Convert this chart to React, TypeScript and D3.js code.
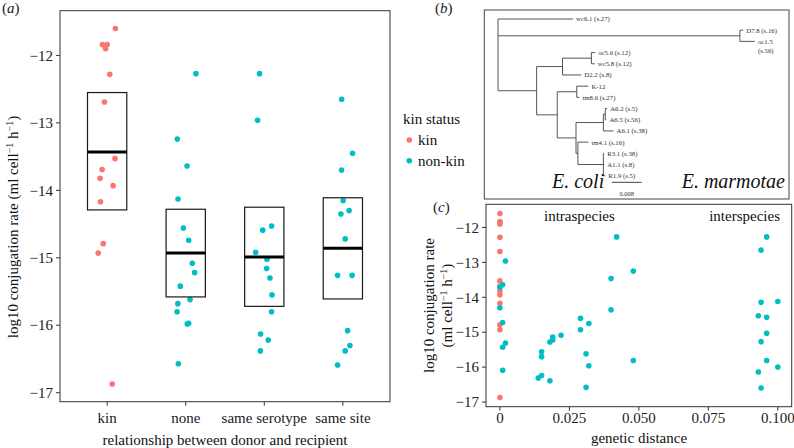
import React from "react";
import * as d3 from "d3";

// ---------- Panel (a) data ----------
const categories = ["kin", "none", "same serotype", "same site"];
const kinValues = [-11.6, -11.84, -11.84, -11.9, -12.28, -12.69, -13.53, -13.69, -13.82, -13.93, -14.17, -14.79, -14.93, -16.87];
const kinJitter = [0.105, -0.06, 0.0, -0.02, 0.034, -0.034, 0.1, -0.064, -0.09, 0.076, -0.085, -0.05, -0.114, 0.064];
const noneValues = [-12.27, -13.24, -13.64, -14.13, -14.56, -14.74, -15.08, -15.22, -15.42, -15.62, -15.68, -15.8, -15.97, -15.98, -16.57];
const noneJitter = [0.13, -0.107, 0.017, -0.098, -0.03, 0.038, 0.084, 0.114, -0.069, 0.055, -0.1, -0.11, 0.038, 0.02, -0.094];
const serotypeValues = [-12.27, -12.96, -14.59, -14.53, -14.92, -15.02, -15.16, -15.3, -15.55, -15.8, -16.13, -16.22, -16.38];
const serotypeJitter = [-0.06, -0.085, -0.02, 0.093, -0.11, 0.034, 0.03, 0.072, 0.098, 0.093, -0.047, 0.05, -0.05];
const siteValues = [-12.65, -13.45, -13.7, -14.15, -14.35, -14.3, -14.72, -15.26, -15.26, -16.08, -16.3, -16.38, -16.59];
const siteJitter = [-0.016, 0.123, -0.016, 0.004, -0.025, 0.08, 0.03, -0.067, 0.118, 0.06, 0.09, 0.03, -0.067];
const boxLow = [-14.29, -15.58, -15.72, -15.61];
const boxMid = [-13.43, -14.93, -14.99, -14.86];
const boxHigh = [-12.55, -14.28, -14.25, -14.11];
const yTicks = [-12, -13, -14, -15, -16, -17];

// ---------- Panel (c) data ----------
const kinDistance = [0, 0, 0, 0, 0, 0, 0, 0, 0, 0, 0, 0, 0, 0];
const nonkinDistance = [
  0.002, 0, 0.001, 0, 0.001, 0.002, 0.001, 0.001,
  0.015, 0.015, 0.0138, 0.015, 0.018, 0.018, 0.019, 0.019, 0.022,
  0.029, 0.029, 0.032, 0.031, 0.032, 0.031,
  0.042, 0.04, 0.048, 0.04, 0.048,
  0.096, 0.094, 0.094, 0.1, 0.093, 0.096, 0.096, 0.094, 0.096, 0.1, 0.093, 0.094,
];
const nonkinRate = [
  -12.96, -13.71, -13.64, -14.3, -14.72, -15.31, -15.43, -16.09,
  -15.56, -15.7, -16.31, -16.24, -16.39, -15.28, -15.22, -15.14, -15.09,
  -14.6, -14.93, -14.75, -15.62, -15.96, -16.58,
  -12.27, -13.46, -13.25, -14.36, -15.81,
  -12.27, -12.65, -14.14, -14.12, -14.53, -14.57, -15.03, -15.27, -15.81, -16.0, -16.14, -16.6,
];
const distTicks = [0, 0.025, 0.05, 0.075, 0.1];
const distTickLabels = ["0", "0.025", "0.050", "0.075", "0.100"];

// ---------- Panel (b) tree data ----------
const treeIds = ["root", "wc6.1", "marm", "D7.8", "oc1.5", "ecoli", "upper", "ocwc", "oc5.6", "wc5.8", "D2.2", "lower", "k12n", "K-12", "tm8.6", "lowlow", "a6", "a625", "A6.2", "A6.5", "A6.1", "tmr", "tm4.1", "r", "R3.1", "A1.1", "R1.9"];
const treeParents = ["", "root", "root", "marm", "marm", "root", "ecoli", "upper", "ocwc", "ocwc", "upper", "ecoli", "lower", "k12n", "k12n", "lower", "lowlow", "a6", "a625", "a625", "a6", "lowlow", "tmr", "tmr", "r", "r", "r"];
const treeLengths = [0, 0.02, 0.0645, 0.0009, 0.004, 0.0103, 0.0069, 0.0077, 0.001, 0.0009, 0.005, 0.0055, 0.0052, 0.0031, 0.0007, 0.005, 0.0073, 0.0005, 0.0005, 0.0003, 0.0027, 0.0005, 0.0028, 0.0068, 0.0002, 0.0002, 0.0005];
const treeLabels = ["", "wc6.1 (s.27)", "", "D7.8 (s.16)", "oc1.5|(s.56)", "", "", "", "oc5.6 (s.12)", "wc5.8 (s.12)", "D2.2 (s.8)", "", "", "K-12", "tm8.6 (s.27)", "", "", "", "A6.2 (s.5)", "A6.5 (s.56)", "A6.1 (s.38)", "", "tm4.1 (s.16)", "", "R3.1 (s.38)", "A1.1 (s.8)", "R1.9 (s.5)"];
const scaleBarValue = 0.008;

const KIN = "#F8766D";
const NONKIN = "#00BFC4";
const FONT = "'Liberation Serif', 'Times New Roman', serif";
const R = 2.8;
const FS = 15;

function SupLabel({ prefix }: { prefix: string }) {
  return (
    <>
      {prefix}(ml cell
      <tspan fontSize="10" dy="-5">−1</tspan>
      <tspan dy="5"> h</tspan>
      <tspan fontSize="10" dy="-5">−1</tspan>
      <tspan dy="5">)</tspan>
    </>
  );
}

export default function App() {
  // ----- panel (a) scales -----
  const allVals = [...kinValues, ...noneValues, ...serotypeValues, ...siteValues];
  const ext = d3.extent(allVals) as [number, number];
  const pad = (ext[1] - ext[0]) * 0.05;
  const aY = d3.scaleLinear().domain([ext[0] - pad, ext[1] + pad]).range([401.7, 10.7]);
  const aX = d3.scalePoint<string>().domain(categories).range([60, 390]).padding(0.6);
  const step = aX.step();
  const groups = [
    { vals: kinValues, jit: kinJitter, color: KIN },
    { vals: noneValues, jit: noneJitter, color: NONKIN },
    { vals: serotypeValues, jit: serotypeJitter, color: NONKIN },
    { vals: siteValues, jit: siteJitter, color: NONKIN },
  ];

  // ----- panel (c) scales -----
  const cY = d3.scaleLinear().domain([ext[0] - pad, ext[1] + pad]).range([406.7, 204.3]);
  const dExt = [0, 0.1];
  const dPad = (dExt[1] - dExt[0]) * 0.05;
  const cX = d3.scaleLinear().domain([dExt[0] - dPad, dExt[1] + dPad]).range([486, 791.7]);

  // ----- panel (b) tree -----
  const table = treeIds.map((id, i) => ({ id, parent: treeParents[i], len: treeLengths[i], label: treeLabels[i] }));
  const root = d3.stratify<any>().id((d: any) => d.id).parentId((d: any) => d.parent || null)(table);
  const treeX = d3.scaleLinear().domain([0, scaleBarValue]).range([498, 528]);
  const leaves = root.leaves();
  const leafY = d3.scaleLinear().domain([0, leaves.length - 1]).range([19, 175.7]);
  const pos = new Map<string, { x: number; y: number }>();
  let leafIdx = 0;
  const place = (node: any, dist: number) => {
    const d = dist + node.data.len;
    if (!node.children) {
      pos.set(node.id, { x: treeX(d), y: leafY(leafIdx++) });
    } else {
      node.children.forEach((c: any) => place(c, d));
      const first = pos.get(node.children[0].id)!;
      const last = pos.get(node.children[node.children.length - 1].id)!;
      pos.set(node.id, { x: treeX(d), y: (first.y + last.y) / 2 });
    }
  };
  place(root, 0);
  const treeLines: { x1: number; y1: number; x2: number; y2: number }[] = [];
  root.each((node: any) => {
    if (node.children) {
      const p = pos.get(node.id)!;
      const ys = node.children.map((c: any) => pos.get(c.id)!.y);
      treeLines.push({ x1: p.x, x2: p.x, y1: d3.min(ys)!, y2: d3.max(ys)! });
      node.children.forEach((c: any) => {
        const cp = pos.get(c.id)!;
        treeLines.push({ x1: p.x, x2: cp.x, y1: cp.y, y2: cp.y });
      });
    }
  });
  const barLen = treeX(scaleBarValue) - treeX(0);

  const tickColor = "#333";

  return (
    <svg width={794} height={448} style={{ display: "block", position: "absolute", left: 0, top: 0 }} fontFamily={FONT}>
      <rect width={794} height={448} fill="#fff" />
      {/* ================= panel (a) ================= */}
      <text x={2} y={13} fontSize={FS} fill="#222">(<tspan fontStyle="italic">a</tspan>)</text>
      <rect x={60} y={10.7} width={330} height={391} fill="none" stroke="#333" strokeWidth={1} />
      {yTicks.map((t) => (
        <g key={"ay" + t}>
          <line x1={56} x2={60} y1={aY(t)} y2={aY(t)} stroke={tickColor} />
          <text x={53} y={aY(t)} dy="0.35em" textAnchor="end" fontSize={FS} fill="#222">{"−" + Math.abs(t)}</text>
        </g>
      ))}
      {categories.map((c) => (
        <g key={"ax" + c}>
          <line x1={aX(c)} x2={aX(c)} y1={401.7} y2={405.7} stroke={tickColor} />
          <text x={aX(c)} y={418} dy="0.35em" textAnchor="middle" fontSize={FS} fill="#222">{c}</text>
        </g>
      ))}
      <text x={225} y={440} dy="0.35em" textAnchor="middle" fontSize={FS} fill="#111">relationship between donor and recipient</text>
      <text transform="translate(18,227) rotate(-90)" textAnchor="middle" fontSize={FS} fill="#111">
        <SupLabel prefix="log10 conjugation rate " />
      </text>
      {groups.map((g, gi) =>
        g.vals.map((v, i) => (
          <circle key={"ap" + gi + "-" + i} cx={aX(categories[gi])! + g.jit[i] * step} cy={aY(v)} r={R} fill={g.color} />
        ))
      )}
      {categories.map((c, i) => {
        const cx = aX(c)!;
        const w = step * 0.5;
        return (
          <g key={"box" + c}>
            <rect x={cx - w / 2} y={aY(boxHigh[i])} width={w} height={aY(boxLow[i]) - aY(boxHigh[i])} fill="none" stroke="#1a1a1a" strokeWidth={1.2} />
            <line x1={cx - w / 2} x2={cx + w / 2} y1={aY(boxMid[i])} y2={aY(boxMid[i])} stroke="#000" strokeWidth={3} />
          </g>
        );
      })}

      {/* ================= legend ================= */}
      <text x={403} y={124} fontSize={FS} fill="#111">kin status</text>
      <circle cx={409.3} cy={140} r={R} fill={KIN} />
      <text x={418} y={140} dy="0.35em" fontSize={FS} fill="#111">kin</text>
      <circle cx={409.3} cy={160.7} r={R} fill={NONKIN} />
      <text x={418} y={160.7} dy="0.35em" fontSize={FS} fill="#111">non-kin</text>

      {/* ================= panel (b) ================= */}
      <text x={435} y={13} fontSize={FS} fill="#222">(<tspan fontStyle="italic">b</tspan>)</text>
      <rect x={484.3} y={10} width={304.7} height={189} fill="none" stroke="#444" strokeWidth={1} />
      {treeLines.map((l, i) => (
        <line key={"tl" + i} x1={l.x1} x2={l.x2} y1={l.y1} y2={l.y2} stroke="#555" strokeWidth={1} />
      ))}
      {leaves.map((leaf: any) => {
        const p = pos.get(leaf.id)!;
        const parts = (leaf.data.label as string).split("|");
        return (
          <text key={"lab" + leaf.id} x={p.x + 3} y={p.y} fontSize={6.8} fill="#333">
            {parts.map((s, k) => (
              <tspan key={k} x={p.x + 3} dy={k === 0 ? "0.35em" : "1.4em"}>{s}</tspan>
            ))}
          </text>
        );
      })}
      <text x={552} y={188} fontSize={20} fontStyle="italic" fill="#111">E. coli</text>
      <text x={785} y={188} fontSize={20} fontStyle="italic" fill="#111" textAnchor="end">E. marmotae</text>
      <line x1={611.7} x2={611.7 + barLen} y1={182.3} y2={182.3} stroke="#444" strokeWidth={1} />
      <text x={611.7 + barLen / 2} y={196} fontSize={6.5} textAnchor="middle" fill="#333">{String(scaleBarValue)}</text>

      {/* ================= panel (c) ================= */}
      <text x={433} y={212} fontSize={FS} fill="#222">(<tspan fontStyle="italic">c</tspan>)</text>
      <rect x={486} y={204.3} width={305.7} height={202.4} fill="none" stroke="#333" strokeWidth={1} />
      {yTicks.map((t) => (
        <g key={"cy" + t}>
          <line x1={482} x2={486} y1={cY(t)} y2={cY(t)} stroke={tickColor} />
          <text x={479} y={cY(t)} dy="0.35em" textAnchor="end" fontSize={FS} fill="#222">{"−" + Math.abs(t)}</text>
        </g>
      ))}
      {distTicks.map((t, i) => (
        <g key={"cx" + t}>
          <line x1={cX(t)} x2={cX(t)} y1={406.7} y2={410.7} stroke={tickColor} />
          <text x={cX(t)} y={418} dy="0.35em" textAnchor="middle" fontSize={FS} fill="#222">{distTickLabels[i]}</text>
        </g>
      ))}
      <text x={639} y={438} dy="0.35em" textAnchor="middle" fontSize={FS} fill="#111">genetic distance</text>
      <text transform="translate(434,305.5) rotate(-90)" textAnchor="middle" fontSize={FS} fill="#111">log10 conjugation rate</text>
      <text transform="translate(452,305.5) rotate(-90)" textAnchor="middle" fontSize={FS} fill="#111">
        <SupLabel prefix="" />
      </text>
      <text x={544} y={221} fontSize={FS} fill="#111">intraspecies</text>
      <text x={780} y={221} fontSize={FS} fill="#111" textAnchor="end">interspecies</text>
      {kinValues.map((v, i) => (
        <circle key={"ck" + i} cx={cX(kinDistance[i])} cy={cY(v)} r={R} fill={KIN} />
      ))}
      {nonkinRate.map((v, i) => (
        <circle key={"cn" + i} cx={cX(nonkinDistance[i])} cy={cY(v)} r={R} fill={NONKIN} />
      ))}
    </svg>
  );
}
